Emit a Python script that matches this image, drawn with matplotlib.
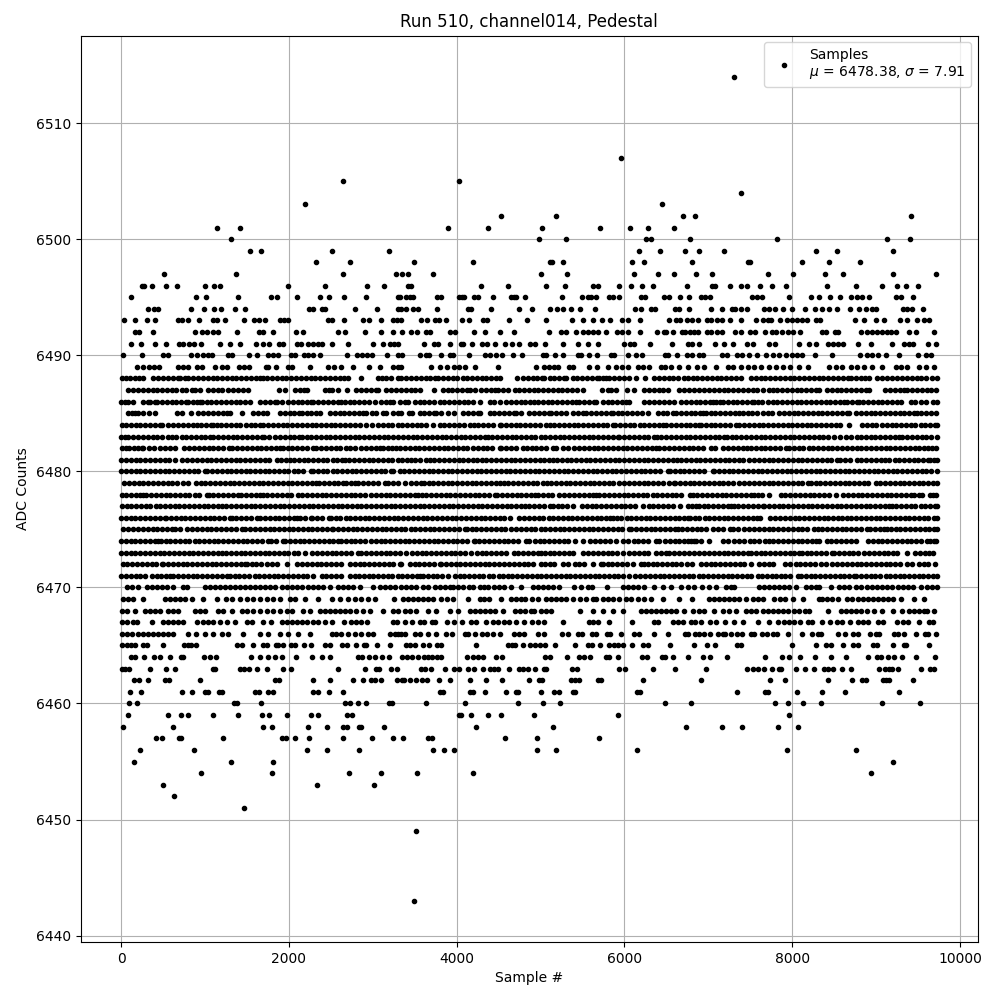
import matplotlib

matplotlib.use("Agg")
import matplotlib.pyplot as plt

# sample numbers, one list per ADC level
s6514 = [7303]
s6507 = [5956]
s6505 = [2643, 4028]
s6504 = [7385]
s6503 = [2190, 6444]
s6502 = [4527, 5182, 6694, 6837, 9420]
s6501 = [1146, 1413, 3897, 4373, 5015, 5706, 6063, 6277, 6587]
s6500 = [1313, 4980, 5301, 6254, 6313, 6777, 7825, 9135, 9408]
s6499 = [1539, 1670, 2515, 3194, 6170, 6429, 6718, 6885, 7182, 8289, 8539, 9206]
s6498 = [2325, 2730, 3492, 4194, 5110, 5140, 5265, 6087, 6230, 6801, 7470, 7500, 8122, 8444, 8813]
s6497 = [515, 1372, 2646, 3277, 3349, 3420, 3718, 5003, 5313, 6111, 6396, 6587, 6849, 7039, 7706,
         8004, 8396, 8610, 9206, 9718]
s6496 = [245, 270, 373, 539, 670, 1004, 1111, 1182, 1991, 2432, 2932, 3134, 3425, 3450, 4289, 4610,
         5063, 5289, 5630, 5680, 5932, 6075, 6206, 6337, 6742, 7045, 7080, 7254, 7385, 7456, 7611,
         7754, 7932, 8420, 8765, 9075, 9254, 9361, 9504]
s6495 = [123, 897, 1016, 1396, 1790, 1861, 2099, 2373, 2480, 2655, 2920, 3301, 3325, 3400, 3440, 3480,
         3770, 3810, 4030, 4060, 4090, 4210, 4260, 4429, 4650, 4680, 4710, 4813, 5253, 5492, 5570,
         5605, 5658, 5820, 5860, 5932, 6200, 6240, 6468, 6527, 6658, 6765, 6908, 6956, 7015, 7516,
         7575, 7646, 7968, 8230, 8325, 8456, 8575, 8706, 8777, 8837, 8920, 9242, 9301, 9440]
s6494 = [321, 393, 440, 833, 988, 1107, 1190, 1357, 1476, 2238, 2285, 2393, 2429, 2786, 3048, 3298,
         3333, 3393, 3476, 3536, 3762, 4131, 4167, 4405, 4738, 4893, 5107, 5202, 5262, 5369, 5476,
         5655, 6131, 6202, 6321, 6369, 6607, 6655, 6774, 7036, 7167, 7286, 7321, 7393, 7464, 7667,
         7726, 7798, 7893, 8000, 8155, 8274, 8357, 8440, 8536, 8691, 8798, 8881, 8952, 9000, 9321,
         9369, 9429, 9560]
s6493 = [38, 171, 312, 407, 681, 729, 798, 931, 1098, 1146, 1238, 1467, 1586, 1645, 1717, 1898, 1945,
         1993, 2467, 2515, 2658, 2883, 2955, 3098, 3241, 3289, 3337, 3576, 3648, 3745, 3790, 3874,
         4064, 4149, 4313, 4360, 4624, 4838, 5064, 5373, 5504, 5624, 5731, 5826, 5969, 6040, 6183,
         6530, 6620, 6664, 6750, 6810, 6880, 6988, 7036, 7100, 7167, 7262, 7393, 7574, 7648, 7707,
         7750, 7860, 7940, 8000, 8060, 8120, 8180, 8286, 8333, 8750, 8857, 9000, 9095, 9286, 9369,
         9488, 9571, 9631]
s6492 = [171, 218, 385, 885, 968, 1027, 1095, 1155, 1385, 1645, 1695, 1814, 2087, 2167, 2587, 2669,
         2905, 3095, 3238, 3349, 3456, 3527, 3640, 3680, 3921, 3980, 4206, 4337, 4516, 4683, 5098,
         5242, 5301, 5421, 5504, 5564, 5624, 5683, 5778, 5909, 5968, 6040, 6183, 6385, 6468, 6500,
         6575, 6682, 6720, 6780, 6826, 6873, 6988, 7036, 7100, 7167, 7321, 7393, 7500, 7560, 7679,
         7762, 7810, 7881, 7952, 8012, 8095, 8357, 8405, 8512, 8548, 8821, 8893, 8952, 9012, 9071,
         9131, 9179, 9238, 9393, 9476, 9690]
s6491 = [122, 240, 408, 539, 693, 741, 812, 872, 955, 1180, 1300, 1419, 1610, 1693, 1765, 1885, 1933,
         2099, 2147, 2230, 2290, 2349, 2397, 2516, 2706, 3003, 3122, 3204, 3253, 3300, 3610, 3730,
         3778, 3921, 4050, 4080, 4183, 4302, 4361, 4456, 4575, 4658, 4741, 4873, 4933, 5052, 5265,
         5443, 5563, 5683, 6000, 6063, 6110, 6302, 6563, 6754, 6810, 6885, 7075, 7190, 7298, 7456,
         7536, 7726, 7798, 8086, 8202, 8286, 8432, 8492, 8548, 8607, 8786, 8940, 9190, 9333, 9393,
         9440, 9619, 9714]
s6490 = [28, 252, 500, 560, 833, 905, 976, 1036, 1083, 1274, 1321, 1524, 1619, 1750, 1810, 1869, 2024,
         2071, 2179, 2226, 2286, 2369, 2690, 2810, 2869, 2929, 2988, 3167, 3298, 3349, 3560, 3640,
         3670, 3810, 3925, 3955, 4143, 4333, 4393, 4464, 4536, 4667, 4774, 5030, 5065, 5167, 5262,
         5450, 5480, 5583, 5679, 5840, 5875, 6048, 6143, 6214, 6485, 6515, 6631, 6750, 6810, 6885,
         6940, 7167, 7226, 7345, 7405, 7488, 7583, 7690, 7766, 7845, 7925, 8000, 8060, 8120, 8274,
         8476, 8813, 8897, 8957, 9028, 9123, 9274, 9504, 9591, 9651]
s6489 = [194, 266, 337, 397, 456, 682, 742, 802, 901, 960, 1119, 1198, 1258, 1409, 1468, 1528, 1722,
         1754, 1841, 1992, 2040, 2254, 2468, 2540, 2623, 2766, 2956, 3087, 3242, 3301, 3337, 3694,
         3797, 3884, 3968, 4027, 4099, 4218, 4496, 4944, 5039, 5099, 5158, 5206, 5337, 5384, 5575,
         5670, 5801, 5900, 5972, 6039, 6158, 6218, 6290, 6432, 6488, 6551, 6655, 6754, 6861, 6953,
         7092, 7230, 7290, 7389, 7469, 7548, 7627, 7726, 7806, 7885, 7972, 8084, 8183, 8441, 8520,
         8599, 8699, 8778, 8857, 8957, 9068, 9234, 9294, 9373, 9512, 9591, 9690]
s6488 = [5, 55, 107, 167, 215, 266, 385, 440, 500, 555, 615, 682, 702, 762, 802, 860, 915, 975, 1030,
         1090, 1145, 1205, 1260, 1320, 1375, 1435, 1490, 1550, 1605, 1655, 1694, 1734, 1795, 1853,
         1913, 1970, 2030, 2085, 2145, 2200, 2260, 2315, 2375, 2430, 2490, 2545, 2605, 2660, 2706,
         2865, 3063, 3115, 3163, 3222, 3301, 3340, 3400, 3455, 3515, 3570, 3630, 3685, 3740, 3777,
         3837, 3896, 3955, 4010, 4070, 4125, 4185, 4240, 4300, 4355, 4415, 4470, 4511, 4717, 4789,
         4845, 4905, 4960, 5020, 5047, 5107, 5165, 5225, 5280, 5305, 5384, 5440, 5500, 5555, 5615,
         5670, 5702, 5741, 5785, 5821, 5880, 5940, 5999, 6051, 6138, 6245, 6356, 6415, 6470, 6530,
         6585, 6640, 6714, 6760, 6814, 6870, 6925, 6985, 7040, 7100, 7155, 7215, 7270, 7330, 7389,
         7508, 7565, 7625, 7680, 7740, 7795, 7855, 7910, 7970, 8025, 8085, 8140, 8200, 8255, 8315,
         8370, 8430, 8485, 8545, 8600, 8660, 8699, 8758, 8815, 8870, 8917, 9016, 9075, 9135, 9195,
         9254, 9310, 9370, 9425, 9485, 9540, 9591, 9671, 9729]
s6487 = [87, 145, 200, 260, 315, 375, 430, 490, 545, 605, 660, 720, 775, 841, 881, 940, 1040, 1095,
         1150, 1198, 1278, 1335, 1395, 1450, 1516, 1881, 1952, 2071, 2130, 2185, 2210, 2428, 2475,
         2508, 2587, 2694, 2805, 2865, 2920, 2980, 3035, 3063, 3162, 3220, 3281, 3341, 3400, 3455,
         3500, 3559, 3730, 3837, 3895, 3950, 4010, 4065, 4125, 4162, 4218, 4293, 4350, 4405, 4452,
         4492, 4550, 4611, 4690, 4745, 4805, 4860, 4920, 4975, 5035, 5087, 5146, 5205, 5260, 5320,
         5375, 5435, 5503, 5730, 5801, 5841, 5900, 6027, 6118, 6238, 6295, 6350, 6410, 6465, 6515,
         6655, 6715, 6770, 6830, 6885, 6953, 7012, 7070, 7125, 7185, 7240, 7300, 7355, 7415, 7470,
         7530, 7585, 7647, 7718, 7766, 7825, 7880, 7940, 7995, 8055, 8110, 8170, 8225, 8285, 8322,
         8413, 8470, 8530, 8585, 8645, 8700, 8760, 8815, 8877, 8917, 9107, 9165, 9220, 9280, 9335,
         9373, 9433, 9490, 9550, 9605, 9660, 9710]
s6486 = [3, 48, 87, 147, 266, 325, 345, 400, 425, 484, 545, 603, 655, 715, 770, 802, 861, 905, 940,
         960, 1020, 1075, 1135, 1190, 1250, 1305, 1365, 1420, 1480, 1536, 1655, 1715, 1770, 1830, 1853,
         1920, 1992, 2050, 2105, 2151, 2210, 2260, 2290, 2349, 2405, 2465, 2520, 2580, 2627, 2666, 2725,
         2780, 2840, 2895, 2955, 3023, 3103, 3155, 3202, 3242, 3321, 3385, 3420, 3500, 3560, 3615, 3675,
         3730, 3797, 3855, 3910, 3970, 4025, 4085, 4140, 4200, 4273, 4392, 4450, 4511, 4591, 4650, 4705,
         4765, 4820, 4880, 4928, 4968, 5025, 5085, 5140, 5200, 5255, 5315, 5370, 5424, 5464, 5520, 5580,
         5635, 5662, 5741, 5800, 5855, 5915, 5970, 6019, 6059, 6238, 6295, 6350, 6410, 6477, 6535, 6590,
         6675, 6735, 6790, 6850, 6905, 6965, 7020, 7052, 7092, 7135, 7171, 7230, 7290, 7345, 7405, 7460,
         7520, 7548, 7587, 7645, 7707, 7766, 7825, 7880, 7940, 7995, 8055, 8110, 8170, 8225, 8285, 8340,
         8400, 8455, 8515, 8570, 8619, 8659, 8715, 8770, 8798, 8845, 8905, 8960, 9020, 9075, 9135, 9190,
         9250, 9294, 9413, 9470, 9530, 9591, 9679, 9729]
s6485 = [87, 130, 167, 206, 266, 337, 405, 663, 722, 837, 921, 980, 1035, 1095, 1150, 1210, 1265, 1298,
         1444, 1575, 1635, 1690, 1734, 1893, 1950, 2010, 2065, 2125, 2151, 2210, 2265, 2325, 2369, 2488,
         2545, 2605, 2660, 2720, 2775, 2835, 2885, 2924, 2985, 3043, 3123, 3162, 3242, 3300, 3341, 3432,
         3472, 3559, 3615, 3675, 3730, 3758, 3817, 3896, 3968, 4075, 4135, 4190, 4250, 4273, 4392, 4450,
         4505, 4565, 4620, 4680, 4710, 4769, 4868, 4925, 4985, 5040, 5100, 5126, 5186, 5245, 5305, 5384,
         5445, 5503, 5543, 5600, 5660, 5715, 5775, 5841, 5860, 5920, 5975, 6035, 6090, 6150, 6205, 6277,
         6396, 6455, 6510, 6576, 6615, 6675, 6730, 6790, 6845, 6905, 6933, 6972, 7030, 7085, 7145, 7200,
         7260, 7315, 7369, 7409, 7470, 7525, 7585, 7647, 7707, 7765, 7846, 7905, 7960, 8020, 8075, 8135,
         8190, 8250, 8305, 8361, 8413, 8480, 8535, 8595, 8650, 8679, 8758, 8818, 8877, 8935, 8990, 9050,
         9105, 9165, 9220, 9280, 9335, 9395, 9450, 9492, 9532, 9590, 9650, 9710]
s6484 = [5, 60, 115, 175, 230, 290, 345, 405, 460, 484, 563, 620, 680, 735, 795, 861, 901, 955, 1015,
         1070, 1099, 1139, 1195, 1255, 1310, 1370, 1417, 1488, 1545, 1600, 1655, 1694, 1750, 1810, 1865,
         1925, 1980, 2040, 2095, 2155, 2210, 2270, 2325, 2385, 2440, 2500, 2555, 2615, 2670, 2730, 2785,
         2845, 2924, 2992, 3063, 3120, 3180, 3235, 3295, 3350, 3410, 3465, 3525, 3580, 3640, 3718, 3797,
         3855, 3910, 3970, 4025, 4085, 4154, 4202, 4260, 4315, 4375, 4430, 4511, 4531, 4590, 4645, 4705,
         4760, 4820, 4875, 4935, 4990, 5067, 5107, 5165, 5220, 5280, 5335, 5395, 5450, 5510, 5565, 5625,
         5680, 5740, 5795, 5860, 5892, 5950, 6005, 6065, 6120, 6180, 6235, 6295, 6350, 6410, 6465, 6495,
         6555, 6615, 6670, 6730, 6785, 6845, 6893, 6913, 6970, 7030, 7085, 7145, 7200, 7260, 7330, 7369,
         7425, 7485, 7540, 7600, 7655, 7715, 7770, 7830, 7885, 7945, 8000, 8060, 8115, 8175, 8230, 8290,
         8345, 8405, 8460, 8520, 8575, 8679, 8837, 8895, 8950, 8996, 9068, 9125, 9185, 9240, 9300, 9355,
         9415, 9470, 9530, 9585, 9645, 9700, 9729]
s6483 = [3, 50, 87, 145, 200, 260, 315, 375, 430, 490, 563, 603, 660, 720, 775, 835, 890, 950, 1005,
         1059, 1099, 1155, 1215, 1270, 1330, 1385, 1445, 1500, 1560, 1615, 1674, 1702, 1760, 1833, 1893,
         1950, 2010, 2065, 2125, 2151, 2210, 2265, 2325, 2380, 2440, 2495, 2555, 2610, 2670, 2725, 2785,
         2840, 2900, 2955, 3015, 3070, 3130, 3185, 3245, 3300, 3360, 3415, 3475, 3530, 3590, 3645, 3705,
         3760, 3820, 3875, 3935, 3990, 4050, 4105, 4165, 4220, 4280, 4333, 4372, 4424, 4480, 4540, 4595,
         4655, 4710, 4770, 4825, 4885, 4940, 5000, 5055, 5115, 5170, 5230, 5285, 5345, 5400, 5460, 5515,
         5575, 5630, 5690, 5745, 5805, 5860, 5920, 5940, 6000, 6055, 6115, 6170, 6230, 6285, 6357, 6384,
         6440, 6500, 6555, 6615, 6670, 6730, 6785, 6845, 6900, 6960, 7015, 7075, 7130, 7191, 7222, 7280,
         7335, 7395, 7450, 7510, 7565, 7625, 7680, 7740, 7795, 7855, 7910, 7970, 8025, 8085, 8140, 8200,
         8255, 8315, 8370, 8430, 8500, 8572, 8647, 8705, 8778, 8818, 8875, 8935, 8990, 9050, 9105, 9165,
         9220, 9274, 9314, 9370, 9430, 9485, 9545, 9600, 9660, 9729]
s6482 = [8, 55, 99, 155, 205, 246, 266, 333, 397, 464, 520, 580, 643, 754, 813, 870, 930, 985, 1045,
         1100, 1160, 1215, 1290, 1325, 1385, 1440, 1500, 1555, 1615, 1670, 1730, 1785, 1845, 1893, 1925,
         1985, 2040, 2100, 2155, 2215, 2290, 2329, 2385, 2445, 2500, 2560, 2615, 2675, 2730, 2790, 2865,
         2924, 2980, 3040, 3091, 3123, 3180, 3235, 3281, 3325, 3385, 3440, 3500, 3555, 3615, 3670, 3730,
         3785, 3845, 3900, 3960, 4015, 4075, 4126, 4194, 4250, 4310, 4365, 4425, 4511, 4531, 4590, 4645,
         4705, 4789, 4837, 4895, 4950, 5010, 5065, 5146, 5186, 5265, 5325, 5404, 5460, 5520, 5583, 5634,
         5690, 5750, 5805, 5865, 5920, 5980, 6035, 6095, 6150, 6210, 6265, 6325, 6380, 6417, 6475, 6535,
         6590, 6650, 6705, 6765, 6820, 6880, 6935, 7032, 7084, 7179, 7235, 7295, 7350, 7410, 7465, 7508,
         7568, 7625, 7680, 7740, 7795, 7855, 7925, 7965, 8020, 8080, 8135, 8195, 8250, 8310, 8365, 8425,
         8480, 8540, 8595, 8655, 8710, 8770, 8825, 8885, 8940, 9000, 9055, 9115, 9170, 9230, 9285, 9345,
         9400, 9460, 9512, 9571, 9625, 9670, 9710]
s6481 = [3, 60, 115, 175, 230, 290, 345, 405, 460, 520, 575, 643, 730, 790, 845, 905, 960, 1020, 1075,
         1135, 1190, 1250, 1305, 1365, 1420, 1480, 1535, 1595, 1650, 1710, 1765, 1853, 1905, 1960, 2012,
         2059, 2115, 2175, 2230, 2290, 2345, 2405, 2460, 2520, 2575, 2635, 2666, 2718, 2775, 2835, 2890,
         2950, 3005, 3065, 3120, 3180, 3235, 3295, 3350, 3410, 3460, 3508, 3565, 3638, 3678, 3735, 3795,
         3850, 3910, 3965, 4025, 4080, 4140, 4194, 4242, 4300, 4355, 4415, 4470, 4530, 4585, 4645, 4700,
         4760, 4815, 4875, 4930, 4990, 5045, 5105, 5146, 5194, 5250, 5310, 5365, 5425, 5480, 5540, 5595,
         5655, 5710, 5770, 5825, 5885, 5940, 6000, 6055, 6115, 6170, 6230, 6285, 6345, 6400, 6460, 6515,
         6575, 6630, 6675, 6734, 6790, 6850, 6905, 6965, 7020, 7080, 7135, 7195, 7250, 7310, 7365, 7409,
         7488, 7545, 7605, 7660, 7720, 7775, 7835, 7890, 7950, 8005, 8065, 8120, 8180, 8235, 8295, 8350,
         8410, 8465, 8540, 8568, 8625, 8685, 8778, 8825, 8885, 8940, 9000, 9055, 9103, 9160, 9220, 9275,
         9335, 9390, 9450, 9505, 9565, 9623, 9639, 9695, 9729]
s6480 = [3, 60, 115, 175, 230, 290, 345, 405, 460, 520, 575, 635, 690, 750, 805, 865, 920, 1000, 1028,
         1085, 1145, 1200, 1260, 1315, 1375, 1430, 1490, 1536, 1595, 1650, 1710, 1765, 1825, 1880, 1940,
         1995, 2055, 2110, 2170, 2258, 2290, 2345, 2405, 2460, 2520, 2575, 2635, 2690, 2750, 2805, 2865,
         2920, 2980, 3035, 3095, 3150, 3222, 3242, 3321, 3375, 3435, 3490, 3550, 3605, 3665, 3720, 3780,
         3835, 3895, 3950, 4010, 4065, 4125, 4180, 4240, 4295, 4355, 4410, 4470, 4525, 4585, 4640, 4700,
         4755, 4815, 4870, 4930, 4985, 5045, 5100, 5160, 5215, 5275, 5330, 5390, 5445, 5505, 5560, 5620,
         5675, 5735, 5790, 5850, 5905, 5965, 6020, 6080, 6135, 6195, 6250, 6310, 6365, 6425, 6516, 6544,
         6600, 6660, 6715, 6775, 6830, 6890, 6945, 7052, 7072, 7130, 7185, 7245, 7300, 7360, 7415, 7475,
         7530, 7590, 7645, 7705, 7760, 7820, 7875, 7935, 7990, 8050, 8105, 8165, 8220, 8280, 8335, 8395,
         8450, 8510, 8565, 8625, 8680, 8740, 8795, 8855, 8910, 8970, 9025, 9085, 9140, 9200, 9255, 9315,
         9370, 9430, 9485, 9545, 9600, 9660, 9729]
s6479 = [36, 95, 150, 210, 265, 325, 380, 440, 495, 555, 610, 670, 734, 794, 893, 950, 1005, 1065, 1120,
         1180, 1235, 1295, 1350, 1410, 1465, 1525, 1580, 1640, 1695, 1755, 1810, 1870, 1925, 1985, 2040,
         2100, 2155, 2215, 2270, 2329, 2361, 2420, 2475, 2535, 2590, 2647, 2686, 2740, 2785, 2825, 2885,
         2940, 3000, 3063, 3143, 3182, 3240, 3295, 3380, 3460, 3520, 3579, 3607, 3665, 3720, 3780, 3835,
         3895, 3950, 4010, 4067, 4126, 4178, 4235, 4295, 4350, 4410, 4465, 4511, 4559, 4615, 4675, 4730,
         4790, 4845, 4905, 4960, 5027, 5075, 5130, 5190, 5245, 5305, 5353, 5410, 5470, 5525, 5585, 5640,
         5700, 5755, 5815, 5860, 5940, 6000, 6055, 6115, 6170, 6230, 6285, 6345, 6400, 6460, 6530, 6595,
         6607, 6665, 6720, 6780, 6835, 6895, 6950, 7010, 7065, 7125, 7180, 7240, 7295, 7361, 7421, 7488,
         7545, 7605, 7660, 7720, 7775, 7835, 7890, 7950, 8005, 8065, 8120, 8183, 8222, 8280, 8335, 8395,
         8450, 8510, 8565, 8625, 8680, 8740, 8795, 8855, 8905, 9004, 9048, 9105, 9165, 9220, 9280, 9335,
         9395, 9450, 9510, 9565, 9625, 9680, 9729]
s6478 = [5, 60, 115, 175, 230, 266, 298, 355, 415, 470, 530, 585, 645, 700, 760, 815, 875, 930, 1020,
         1044, 1100, 1160, 1215, 1275, 1330, 1397, 1432, 1490, 1545, 1605, 1655, 1686, 1745, 1800, 1860,
         1915, 1975, 2030, 2111, 2159, 2215, 2275, 2330, 2390, 2445, 2505, 2560, 2620, 2675, 2735, 2790,
         2850, 2904, 2984, 3040, 3095, 3155, 3210, 3270, 3325, 3385, 3440, 3500, 3539, 3587, 3638, 3695,
         3755, 3810, 3870, 3925, 3985, 4040, 4100, 4155, 4215, 4270, 4330, 4385, 4452, 4484, 4540, 4600,
         4655, 4715, 4770, 4830, 4885, 4940, 4968, 5025, 5085, 5140, 5226, 5285, 5345, 5400, 5460, 5515,
         5575, 5630, 5662, 5702, 5760, 5815, 5875, 5930, 5990, 6045, 6105, 6160, 6220, 6275, 6335, 6390,
         6450, 6505, 6565, 6620, 6680, 6782, 6814, 6870, 6930, 6985, 7045, 7100, 7160, 7215, 7275, 7330,
         7389, 7449, 7505, 7548, 7587, 7645, 7726, 7865, 7920, 7980, 8035, 8095, 8150, 8210, 8265, 8325,
         8380, 8440, 8520, 8607, 8665, 8720, 8780, 8835, 8895, 8950, 9010, 9065, 9125, 9180, 9240, 9295,
         9355, 9413, 9453, 9510, 9552, 9639, 9680, 9718]
s6477 = [8, 65, 120, 180, 235, 295, 350, 410, 465, 525, 580, 640, 695, 755, 810, 870, 925, 985, 1040,
         1100, 1159, 1198, 1255, 1315, 1370, 1430, 1485, 1545, 1600, 1660, 1715, 1775, 1830, 1890, 1945,
         2005, 2060, 2120, 2175, 2235, 2290, 2350, 2405, 2465, 2520, 2580, 2635, 2695, 2750, 2810, 2865,
         2924, 2984, 3040, 3100, 3155, 3215, 3270, 3330, 3385, 3445, 3500, 3560, 3615, 3675, 3730, 3790,
         3845, 3905, 3960, 4020, 4075, 4135, 4190, 4250, 4305, 4365, 4420, 4480, 4535, 4595, 4650, 4710,
         4769, 4809, 4865, 4925, 4980, 5040, 5107, 5146, 5205, 5260, 5320, 5384, 5495, 5550, 5610, 5665,
         5725, 5780, 5840, 5895, 5955, 6010, 6070, 6125, 6218, 6289, 6345, 6405, 6460, 6520, 6575, 6663,
         6754, 6810, 6853, 6885, 6945, 7000, 7060, 7115, 7175, 7230, 7270, 7302, 7360, 7415, 7475, 7530,
         7590, 7647, 7667, 7725, 7780, 7840, 7895, 7955, 8010, 8070, 8125, 8185, 8240, 8300, 8355, 8415,
         8470, 8530, 8585, 8645, 8700, 8760, 8815, 8875, 8930, 8990, 9045, 9105, 9160, 9195, 9242, 9300,
         9355, 9415, 9470, 9530, 9585, 9645, 9700, 9729]
s6476 = [2, 55, 115, 170, 230, 285, 345, 400, 460, 524, 536, 595, 650, 710, 765, 825, 880, 940, 995,
         1055, 1110, 1170, 1225, 1297, 1317, 1375, 1430, 1490, 1545, 1623, 1655, 1715, 1770, 1830, 1885,
         1945, 2000, 2060, 2091, 2131, 2190, 2258, 2278, 2335, 2395, 2480, 2500, 2560, 2615, 2675, 2730,
         2790, 2845, 2905, 2960, 3020, 3075, 3135, 3190, 3250, 3305, 3365, 3420, 3480, 3535, 3595, 3650,
         3710, 3765, 3825, 3880, 3940, 3995, 4055, 4110, 4170, 4225, 4285, 4340, 4400, 4455, 4515, 4570,
         4638, 4749, 4805, 4865, 4920, 4980, 5035, 5095, 5150, 5210, 5265, 5325, 5380, 5440, 5495, 5555,
         5610, 5670, 5725, 5781, 5829, 5860, 5908, 5965, 6025, 6080, 6140, 6195, 6255, 6310, 6370, 6425,
         6485, 6540, 6600, 6655, 6715, 6754, 6782, 6840, 6895, 6955, 7010, 7070, 7125, 7185, 7240, 7300,
         7355, 7415, 7470, 7530, 7585, 7620, 7738, 7798, 7855, 7915, 7970, 8030, 8085, 8145, 8200, 8260,
         8315, 8375, 8430, 8490, 8545, 8599, 8651, 8707, 8765, 8820, 8880, 8935, 8995, 9050, 9110, 9165,
         9225, 9280, 9340, 9395, 9455, 9510, 9570, 9625, 9685, 9729]
s6475 = [28, 85, 145, 200, 260, 315, 375, 430, 490, 545, 603, 643, 700, 790, 845, 905, 960, 1020, 1067,
         1127, 1190, 1250, 1305, 1365, 1436, 1480, 1540, 1595, 1655, 1710, 1770, 1825, 1885, 1940, 2004,
         2051, 2110, 2165, 2225, 2280, 2340, 2395, 2455, 2508, 2528, 2585, 2645, 2700, 2760, 2815, 2875,
         2930, 2990, 3045, 3105, 3160, 3220, 3275, 3335, 3390, 3450, 3505, 3565, 3620, 3680, 3735, 3795,
         3850, 3910, 3965, 4025, 4095, 4122, 4180, 4235, 4295, 4350, 4410, 4465, 4525, 4580, 4650, 4710,
         4770, 4825, 4885, 4940, 5000, 5055, 5115, 5170, 5230, 5285, 5345, 5400, 5460, 5515, 5575, 5630,
         5690, 5745, 5805, 5860, 5920, 5975, 6059, 6083, 6140, 6200, 6255, 6315, 6370, 6430, 6485, 6545,
         6600, 6643, 6687, 6745, 6800, 6860, 6915, 6975, 7052, 7111, 7170, 7258, 7298, 7355, 7429, 7488,
         7545, 7605, 7660, 7720, 7775, 7835, 7890, 7950, 8005, 8065, 8120, 8180, 8262, 8302, 8360, 8415,
         8475, 8530, 8590, 8645, 8705, 8760, 8820, 8897, 8929, 8985, 9045, 9100, 9135, 9175, 9235, 9290,
         9350, 9405, 9465, 9520, 9580, 9635, 9695, 9729]
s6474 = [2, 55, 115, 170, 230, 285, 345, 400, 444, 472, 530, 585, 645, 700, 760, 815, 875, 930, 990,
         1045, 1105, 1160, 1220, 1275, 1335, 1390, 1450, 1505, 1565, 1620, 1680, 1754, 1786, 1845, 1932,
         1956, 2015, 2070, 2130, 2185, 2245, 2300, 2360, 2415, 2475, 2530, 2587, 2619, 2675, 2735, 2790,
         2850, 2905, 2984, 3036, 3095, 3150, 3210, 3265, 3321, 3380, 3435, 3495, 3550, 3610, 3665, 3725,
         3780, 3840, 3895, 3956, 4003, 4060, 4120, 4202, 4214, 4270, 4330, 4385, 4445, 4500, 4560, 4615,
         4675, 4730, 4829, 4857, 4936, 4988, 5045, 5105, 5160, 5220, 5275, 5325, 5412, 5503, 5595, 5650,
         5710, 5765, 5825, 5900, 5980, 6040, 6118, 6166, 6225, 6280, 6376, 6416, 6480, 6540, 6600, 6655,
         6715, 6754, 6794, 6834, 6853, 6915, 7004, 7171, 7230, 7310, 7361, 7420, 7496, 7540, 7600, 7679,
         7718, 7775, 7835, 7890, 7950, 8005, 8065, 8120, 8180, 8235, 8282, 8322, 8421, 8468, 8525, 8585,
         8640, 8700, 8758, 8905, 8960, 9020, 9075, 9135, 9190, 9250, 9305, 9365, 9420, 9480, 9535, 9611,
         9639, 9695, 9718]
s6473 = [2, 55, 115, 170, 230, 285, 345, 400, 460, 515, 575, 630, 690, 745, 805, 860, 920, 975, 1035,
         1090, 1150, 1198, 1250, 1310, 1365, 1425, 1476, 1536, 1595, 1650, 1710, 1765, 1825, 1880, 1940,
         1995, 2055, 2110, 2190, 2278, 2335, 2395, 2450, 2510, 2565, 2625, 2680, 2740, 2825, 2865, 2925,
         2980, 3040, 3095, 3155, 3210, 3270, 3321, 3392, 3468, 3527, 3585, 3640, 3700, 3755, 3815, 3870,
         3930, 3985, 4045, 4100, 4174, 4242, 4300, 4355, 4415, 4470, 4530, 4591, 4678, 4735, 4795, 4850,
         4910, 4965, 5008, 5051, 5110, 5165, 5225, 5280, 5340, 5384, 5511, 5570, 5625, 5685, 5740, 5800,
         5855, 5915, 5980, 6059, 6115, 6175, 6230, 6277, 6376, 6435, 6490, 6536, 6595, 6650, 6710, 6765,
         6825, 6893, 6953, 7010, 7070, 7125, 7185, 7240, 7300, 7355, 7415, 7468, 7508, 7565, 7625, 7680,
         7740, 7795, 7855, 7910, 7970, 8025, 8084, 8115, 8175, 8230, 8290, 8345, 8405, 8480, 8500, 8560,
         8615, 8675, 8730, 8790, 8857, 8917, 8975, 9030, 9090, 9145, 9205, 9254, 9373, 9464, 9520, 9580,
         9635, 9679]
s6472 = [20, 75, 135, 190, 250, 305, 365, 420, 484, 504, 560, 620, 675, 735, 790, 850, 905, 965, 1020,
         1080, 1135, 1195, 1250, 1310, 1365, 1425, 1476, 1496, 1555, 1610, 1670, 1734, 1794, 1853, 1980,
         2099, 2155, 2215, 2270, 2330, 2385, 2445, 2500, 2560, 2627, 2726, 2785, 2845, 2900, 2960, 3015,
         3075, 3130, 3190, 3245, 3321, 3341, 3440, 3500, 3555, 3615, 3670, 3730, 3797, 3817, 3875, 3930,
         3990, 4045, 4105, 4160, 4220, 4275, 4335, 4390, 4450, 4505, 4565, 4620, 4680, 4749, 4797, 4855,
         4915, 5008, 5055, 5115, 5166, 5265, 5325, 5416, 5464, 5523, 5622, 5722, 5741, 5800, 5855, 5915,
         5970, 6030, 6098, 6198, 6238, 6277, 6335, 6390, 6450, 6505, 6565, 6620, 6680, 6742, 6802, 6913,
         6970, 7030, 7085, 7145, 7200, 7260, 7315, 7375, 7430, 7508, 7607, 7665, 7720, 7766, 7917, 7975,
         8044, 8095, 8155, 8210, 8270, 8349, 8409, 8480, 8540, 8595, 8655, 8710, 8770, 8825, 8885, 8940,
         9000, 9055, 9115, 9170, 9230, 9285, 9373, 9433, 9512, 9570, 9625, 9703]
s6471 = [3, 60, 115, 175, 230, 290, 365, 425, 480, 540, 583, 623, 680, 740, 795, 855, 910, 970, 1025,
         1085, 1140, 1200, 1258, 1297, 1355, 1410, 1470, 1525, 1595, 1647, 1705, 1760, 1820, 1875, 1935,
         1990, 2050, 2105, 2165, 2220, 2290, 2389, 2445, 2505, 2560, 2627, 2726, 2785, 2840, 2900, 2955,
         3004, 3063, 3120, 3180, 3235, 3295, 3350, 3410, 3465, 3525, 3567, 3599, 3655, 3715, 3770, 3830,
         3896, 3976, 4035, 4090, 4150, 4205, 4265, 4320, 4380, 4435, 4503, 4551, 4610, 4665, 4725, 4780,
         4840, 4895, 4955, 5010, 5070, 5125, 5185, 5240, 5300, 5355, 5415, 5470, 5530, 5585, 5645, 5700,
         5760, 5815, 5880, 5920, 5980, 6059, 6130, 6190, 6245, 6305, 6360, 6420, 6475, 6535, 6590, 6650,
         6705, 6765, 6820, 6893, 6941, 7000, 7055, 7115, 7170, 7230, 7285, 7345, 7400, 7460, 7515, 7588,
         7639, 7695, 7755, 7810, 7870, 7917, 7972, 8064, 8103, 8160, 8220, 8275, 8335, 8390, 8450, 8505,
         8565, 8620, 8680, 8738, 8766, 8825, 8880, 8937, 8988, 9045, 9115, 9163, 9220, 9280, 9335, 9395,
         9450, 9510, 9565, 9625, 9680, 9729]
s6470 = [67, 127, 206, 306, 365, 425, 484, 544, 623, 742, 790, 1000, 1059, 1119, 1178, 1238, 1297, 1357,
         1417, 1476, 1536, 1595, 1655, 1714, 1774, 1833, 1913, 1972, 2032, 2091, 2151, 2230, 2290, 2349,
         2409, 2488, 2587, 2647, 2706, 2766, 2845, 3004, 3083, 3143, 3202, 3262, 3341, 3400, 3460, 3519,
         3599, 3658, 3738, 3797, 3857, 3916, 3956, 4015, 4075, 4142, 4200, 4273, 4321, 4373, 4440, 4500,
         4560, 4650, 4769, 4908, 4968, 5027, 5087, 5146, 5226, 5404, 5483, 5563, 5615, 5789, 5980, 6040,
         6100, 6158, 6238, 6356, 6457, 6556, 6675, 6755, 6834, 6925, 7012, 7092, 7211, 7270, 7310, 7607,
         7667, 7727, 7786, 7846, 7906, 7965, 8044, 8163, 8223, 8283, 8322, 8468, 8560, 8620, 8680, 8758,
         8818, 8890, 8957, 9016, 9076, 9136, 9196, 9256, 9316, 9376, 9436, 9532, 9611, 9671, 9729]
s6469 = [28, 87, 147, 266, 524, 583, 643, 702, 762, 849, 980, 1147, 1250, 1317, 1417, 1496, 1575, 1655,
         1734, 1813, 1893, 2012, 2071, 2190, 2349, 2508, 2607, 2706, 2785, 2865, 2944, 3024, 3254, 3361,
         3421, 3481, 3541, 3601, 3661, 3718, 3817, 3887, 3956, 4134, 4273, 4330, 4384, 4531, 4650, 4710,
         4769, 4809, 4896, 4968, 5067, 5127, 5186, 5245, 5305, 5392, 5467, 5543, 5622, 5662, 5741, 5800,
         5860, 5940, 6019, 6079, 6158, 6238, 6317, 6457, 6655, 6802, 7012, 7072, 7132, 7192, 7252, 7312,
         7372, 7449, 7528, 7588, 7647, 7786, 7850, 7917, 8004, 8131, 8322, 8361, 8421, 8480, 8552, 8659,
         8719, 8779, 8839, 8899, 8959, 9019, 9079, 9139, 9199, 9294, 9453, 9572]
s6468 = [8, 67, 167, 286, 345, 405, 464, 563, 623, 682, 881, 940, 1000, 1159, 1218, 1317, 1436, 1496,
         1575, 1655, 1734, 1813, 1893, 1972, 2032, 2170, 2250, 2369, 2429, 2488, 2548, 2607, 2667, 2726,
         2805, 2885, 2964, 3123, 3242, 3301, 3381, 3441, 3519, 3658, 3757, 3916, 4015, 4154, 4214, 4274,
         4334, 4394, 4454, 4551, 4690, 4750, 4810, 4888, 4928, 5008, 5067, 5126, 5476, 5622, 5741, 5860,
         5980, 6198, 6258, 6318, 6378, 6437, 6496, 6556, 6616, 6714, 6814, 6884, 6954, 7072, 7171, 7250,
         7330, 7449, 7509, 7568, 7655, 7710, 7766, 7826, 7890, 7955, 8020, 8085, 8150, 8203, 8433, 8579,
         8639, 8699, 8759, 8819, 8897, 8976, 9076, 9206, 9314, 9393, 9453, 9513, 9573, 9611, 9690]
s6467 = [8, 67, 147, 194, 373, 504, 563, 623, 682, 742, 901, 980, 1040, 1099, 1178, 1266, 1361, 1496,
         1555, 1694, 1790, 1920, 1980, 2043, 2099, 2159, 2218, 2290, 2349, 2436, 2516, 2658, 2746, 2805,
         2865, 2932, 3242, 3290, 3380, 3468, 3563, 3611, 3706, 3741, 3884, 3968, 4063, 4170, 4230, 4349,
         4432, 4492, 4563, 4623, 4706, 4801, 4896, 4968, 5039, 5265, 5575, 5622, 5682, 5813, 6087, 6348,
         6396, 6576, 6635, 6695, 6790, 6838, 6909, 7016, 7088, 7195, 7302, 7409, 7588, 7719, 7826, 7897,
         7957, 8016, 8099, 8183, 8242, 8361, 8445, 8540, 8599, 8695, 8790, 8849, 8909, 9028, 9087, 9254,
         9326, 9385, 9516, 9635, 9683]
s6466 = [8, 67, 127, 206, 266, 325, 385, 444, 504, 563, 623, 802, 897, 1004, 1099, 1198, 1278, 1456,
         1659, 1754, 1893, 1992, 2111, 2250, 2508, 2567, 2627, 2706, 2785, 2865, 2944, 3004, 3202, 3262,
         3301, 3337, 3385, 3503, 3563, 3658, 3757, 3873, 3944, 4099, 4134, 4218, 4301, 4361, 4432, 4515,
         4682, 4742, 4801, 4968, 5039, 5253, 5325, 5444, 5491, 5610, 5658, 5789, 5825, 5964, 6118, 6170,
         6348, 6516, 6719, 6754, 6838, 6885, 6945, 7016, 7111, 7171, 7195, 7266, 7338, 7397, 7504, 7540,
         7635, 7695, 7766, 7814, 7945, 8123, 8242, 8302, 8349, 8552, 8635, 8730, 8790, 8933, 9004, 9040,
         9218, 9266, 9338, 9480, 9587, 9623, 9718]
s6465 = [16, 75, 123, 171, 266, 313, 504, 754, 801, 837, 897, 1385, 1444, 1575, 1694, 1742, 1849, 1873,
         1932, 2028, 2075, 2182, 2266, 2432, 2492, 2635, 2694, 2801, 2897, 2921, 3051, 3206, 3396, 3444,
         3503, 3599, 3670, 3765, 3813, 4230, 4611, 4658, 4694, 4789, 4872, 4932, 4991, 5055, 5170, 5408,
         5563, 5610, 5706, 5813, 5872, 5920, 5980, 6087, 6218, 6277, 6540, 6826, 6980, 7076, 7338, 7385,
         8000, 8290, 8409, 8468, 8611, 8730, 8790, 8969, 9016, 9206, 9338, 9361, 9635]
s6464 = [123, 171, 278, 397, 468, 587, 718, 742, 992, 1063, 1135, 1551, 1659, 1754, 1837, 1920, 2087,
         2278, 2397, 2492, 2825, 2873, 2956, 3028, 3111, 3194, 3349, 3408, 3468, 3539, 3611, 3658, 3706,
         3765, 3813, 4123, 4194, 4253, 4313, 4468, 4539, 5051, 5111, 5313, 5456, 5515, 5587, 5777, 5813,
         5920, 6206, 6265, 6444, 6480, 6575, 6754, 6933, 7016, 7218, 7671, 7873, 7968, 8099, 8278, 8468,
         8647, 8909, 9016, 9064, 9147, 9218, 9314, 9480, 9706]
s6463 = [16, 52, 99, 349, 540, 647, 1099, 1123, 1420, 1468, 1528, 1623, 1742, 1932, 2028, 2587, 2909,
         3040, 3075, 3218, 3290, 3575, 3623, 3694, 3861, 3968, 4027, 4134, 4206, 4313, 4396, 4444, 4492,
         4623, 4742, 4789, 4849, 4932, 5039, 5063, 5372, 5432, 5932, 6003, 6337, 6600, 6969, 7457, 7528,
         7588, 7659, 7754, 7838, 7861, 8040, 8147, 8266, 8385, 8433, 8492, 8599, 8706, 9040, 9111, 9159,
         9195, 9266, 9540, 9647, 9695]
s6462 = [159, 218, 325, 528, 575, 944, 1837, 1885, 2290, 2492, 2766, 2885, 2980, 3028, 3099, 3290, 3349,
         3373, 3444, 3515, 3587, 3646, 3785, 3916, 4158, 4349, 4539, 4860, 4980, 5015, 5361, 5408, 5456,
         5682, 5718, 6218, 6909, 7730, 7909, 8433, 8718, 8837, 8885, 9087, 9123, 9159, 9445]
s6461 = [111, 242, 730, 849, 1004, 1040, 1171, 1206, 1599, 1647, 1754, 1813, 2290, 2349, 2480, 2647, 3801,
         3837, 4158, 4194, 4337, 4587, 4706, 4730, 5003, 5158, 5218, 5384, 5408, 6146, 6182, 7338, 7671,
         7707, 8052, 8361, 8635, 9278]
s6460 = [99, 194, 1349, 1385, 1671, 2670, 2730, 2825, 2920, 3194, 3230, 3634, 4099, 4730, 5027, 5230, 6480,
         6789, 7790, 7945, 8135, 8349, 9076, 9528]
s6459 = [87, 563, 718, 802, 1099, 1397, 1682, 1766, 1980, 2266, 2349, 2694, 2754, 4027, 4051, 4170, 4373,
         4527, 4920, 5920, 7968]
s6458 = [28, 623, 1694, 1801, 2230, 2456, 2647, 2694, 2837, 2861, 3135, 4230, 5146, 6730, 7159, 7397, 7826,
         8064]
s6457 = [421, 492, 690, 712, 1218, 1920, 1968, 2075, 2242, 2647, 2992, 3242, 3361, 3658, 3706, 4575, 4956,
         5694]
s6456 = [230, 873, 2218, 2456, 2837, 3718, 3849, 3968, 4956, 5182, 6146, 7933, 8766]
s6455 = [159, 1313, 1813, 9206]
s6454 = [956, 1801, 2718, 3099, 3527, 4194, 8945]
s6453 = [504, 2337, 3016]
s6452 = [635]
s6451 = [1468]
s6449 = [3515]
s6443 = [3492]

LEVELS = [
    (6514, s6514), (6507, s6507), (6505, s6505), (6504, s6504), (6503, s6503), (6502, s6502),
    (6501, s6501), (6500, s6500), (6499, s6499), (6498, s6498), (6497, s6497), (6496, s6496),
    (6495, s6495), (6494, s6494), (6493, s6493), (6492, s6492), (6491, s6491), (6490, s6490),
    (6489, s6489), (6488, s6488), (6487, s6487), (6486, s6486), (6485, s6485), (6484, s6484),
    (6483, s6483), (6482, s6482), (6481, s6481), (6480, s6480), (6479, s6479), (6478, s6478),
    (6477, s6477), (6476, s6476), (6475, s6475), (6474, s6474), (6473, s6473), (6472, s6472),
    (6471, s6471), (6470, s6470), (6469, s6469), (6468, s6468), (6467, s6467), (6466, s6466),
    (6465, s6465), (6464, s6464), (6463, s6463), (6462, s6462), (6461, s6461), (6460, s6460),
    (6459, s6459), (6458, s6458), (6457, s6457), (6456, s6456), (6455, s6455), (6454, s6454),
    (6453, s6453), (6452, s6452), (6451, s6451), (6449, s6449), (6443, s6443),
]

xs, ys = [], []
for adc, samples in LEVELS:
    xs += samples
    ys += [adc] * len(samples)

fig, ax = plt.subplots(figsize=(10, 10))
ax.plot(xs, ys, "k.", label="Samples\n$\\mu$ = 6478.38, $\\sigma$ = 7.91")
ax.set_title("Run 510, channel014, Pedestal")
ax.set_xlabel("Sample #")
ax.set_ylabel("ADC Counts")
ax.grid(True)
ax.legend(loc="upper right")
fig.subplots_adjust(left=0.0805, right=0.978, top=0.9645, bottom=0.058)
fig.savefig("out.png", dpi=100)
